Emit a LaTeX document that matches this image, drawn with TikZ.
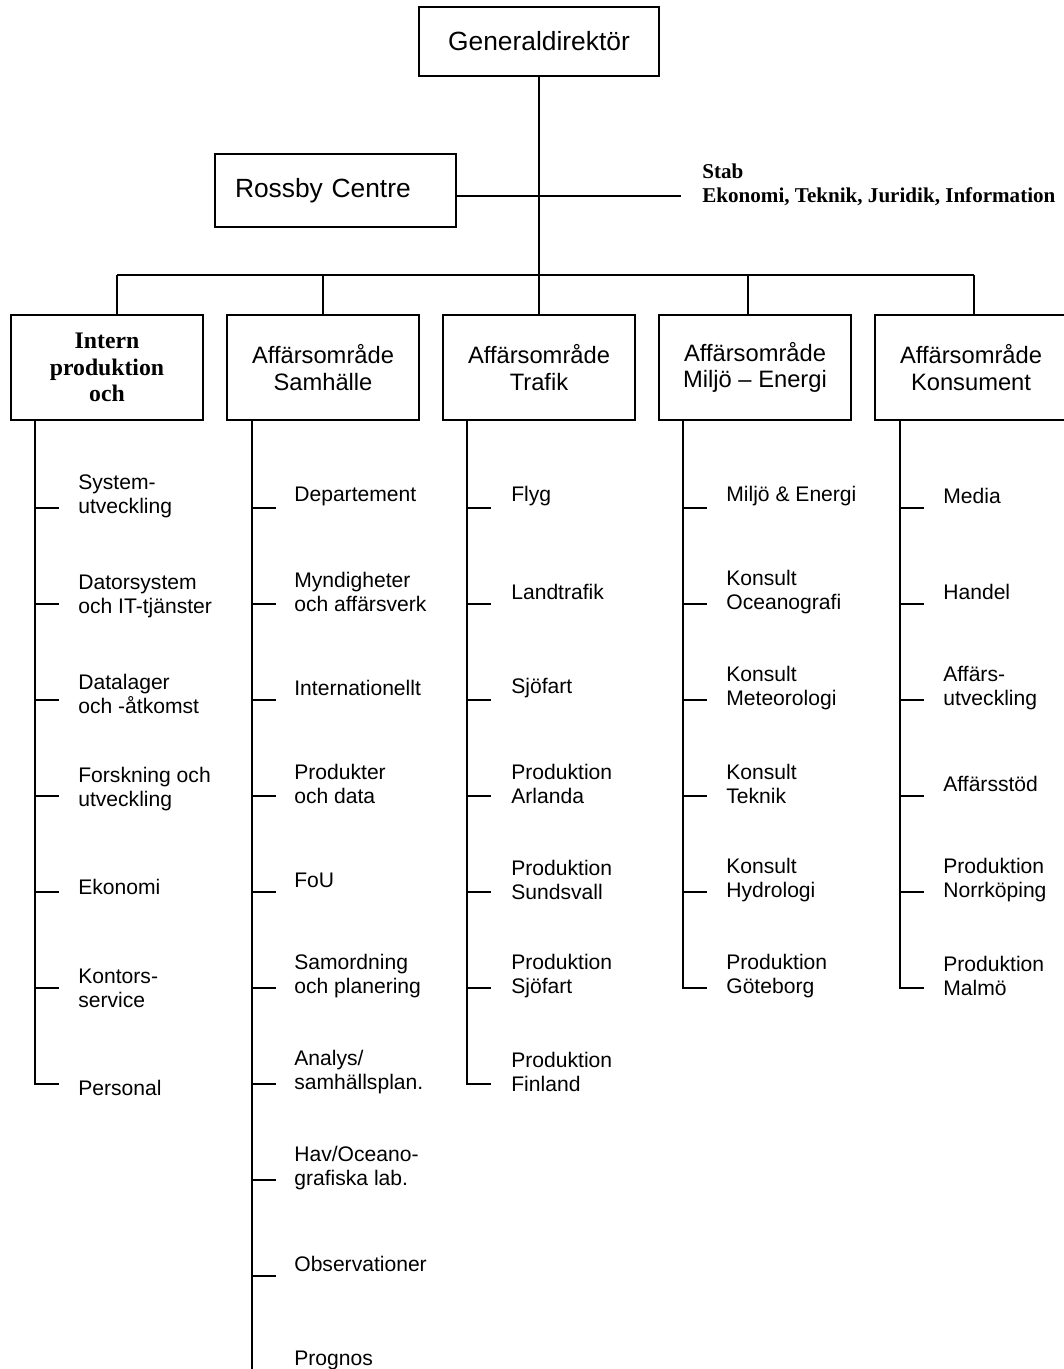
\documentclass[tikz,border=0pt]{standalone}
\usepackage{fontspec}
\setmainfont{Liberation Sans}
\newfontfamily\timesfont{Liberation Serif}
\usepackage{tikz}
\usetikzlibrary{
    positioning,
    calc
}
\tikzset{
    orgbox/.style={
        draw=black,
        line width=1.1pt,
        inner sep=0pt,
        align=center
    }
}
\tikzset{
    topbox/.style={
        orgbox,
        font=\fontsize{15}{18}\selectfont
    }
}
\tikzset{
    areabox/.style={
        orgbox,
        minimum width=3.84cm,
        minimum height=2.1cm,
        font=\fontsize{13.5}{15}\selectfont
    }
}
\tikzset{
    unit/.style={
        anchor=west,
        inner sep=0pt,
        align=left,
        font=\fontsize{12}{13.6}\selectfont
    }
}
\tikzset{
    orgline/.style={
        line width=1.1pt
    }
}

\begin{document}
\begin{tikzpicture}[
    x=0.02cm,
    y=-0.02cm
]

\useasboundingbox (0,0) rectangle (1063,1369);

% =========================================================
% Top level
% =========================================================

\node[topbox, minimum width=4.8cm, minimum height=1.38cm] (gd) at (539,41.5) {Generaldirektör};

\node[topbox, minimum width=4.82cm, minimum height=1.46cm, text width=4.02cm, align=left] (rossby) at (335.5,190.5) {Rossby Centre};

\node[
    anchor=west,
    inner sep=0pt,
    align=left,
    font=\timesfont\bfseries\fontsize{12}{13.6}\selectfont
] (stab) at (702,185) {Stab\\Ekonomi, Teknik, Juridik, Information};

\coordinate (stabend) at (681,196);
\draw[orgline] (rossby.east |- stabend) -- (stabend);


% =========================================================
% Business areas
% =========================================================

\node[areabox, font=\timesfont\bfseries\fontsize{13.5}{15}\selectfont] (intern) at (107,367.5) {Intern\\produktion\\och};
\node[areabox] (sam) at (323,367.5) {Affärsområde\\Samhälle};
\node[areabox] (trafik) at (539,367.5) {Affärsområde\\Trafik};
\node[areabox] (miljo) at (755,367.5) {Affärsområde\\Miljö -- Energi};
\node[areabox] (kons) at (971,367.5) {Affärsområde\\Konsument};

\coordinate (busw) at (117,275);
\coordinate (busm) at (748,275);
\coordinate (buse) at (974,275);

\draw[orgline] (gd.south) -- (trafik.north);
\draw[orgline] (busw) -- (buse);
\draw[orgline] (busw) -- (busw |- intern.north);
\draw[orgline] (sam.north) -- (sam.north |- busw);
\draw[orgline] (busm) -- (busm |- miljo.north);
\draw[orgline] (buse) -- (buse |- kons.north);


% =========================================================
% Intern produktion
% =========================================================

\foreach \txt/\dy [count=\i] in {
    System-\\utveckling/-12,
    Datorsystem\\och IT-tjänster/-8,
    Datalager\\och -åtkomst/-6,
    Forskning och\\utveckling/-7,
    Ekonomi/-5,
    Kontors-\\service/0,
    Personal/4
}{
    \coordinate (intern-t\i) at (35,{508+96*(\i-1)});
    \draw[orgline] (intern-t\i) -- ++(24,0);
    \node[unit] (intern-u\i) at (78,{508+96*(\i-1)+\dy}) {\txt};
}
\draw[orgline] (intern.south -| intern-t1) -- (intern-t7) -- ++(24,0);


% =========================================================
% Samhälle
% =========================================================

\foreach \txt [count=\i] in {
    Departement,
    Myndigheter\\och affärsverk,
    Internationellt,
    Produkter\\och data,
    FoU,
    Samordning\\och planering,
    Analys/\\samhällsplan.,
    Hav/Oceano-\\grafiska lab.,
    Observationer,
    Prognos
}{
    \coordinate (sam-t\i) at (252,{508+96*(\i-1)});
    \draw[orgline] (sam-t\i) -- ++(24,0);
    \node[unit] (sam-u\i) at (294,{496+96*(\i-1)}) {\txt};
}
\draw[orgline] (sam.south -| sam-t1) -- (sam-t10);


% =========================================================
% Trafik
% =========================================================

\foreach \txt [count=\i] in {
    Flyg,
    Landtrafik,
    Sjöfart,
    Produktion\\Arlanda,
    Produktion\\Sundsvall,
    Produktion\\Sjöfart,
    Produktion\\Finland
}{
    \coordinate (trafik-t\i) at (467,{508+96*(\i-1)});
    \draw[orgline] (trafik-t\i) -- ++(24,0);
    \node[unit] (trafik-u\i) at (511,{496+96*(\i-1)}) {\txt};
}
\draw[orgline] (trafik.south -| trafik-t1) -- (trafik-t7) -- ++(24,0);


% =========================================================
% Miljö -- Energi
% =========================================================

\foreach \txt [count=\i] in {
    Miljö \& Energi,
    Konsult\\Oceanografi,
    Konsult\\Meteorologi,
    Konsult\\Teknik,
    Konsult\\Hydrologi,
    Produktion\\Göteborg
}{
    \coordinate (miljo-t\i) at (683,{508+96*(\i-1)});
    \draw[orgline] (miljo-t\i) -- ++(24,0);
    \node[unit] (miljo-u\i) at (726,{496+96*(\i-1)}) {\txt};
}
\draw[orgline] (miljo.south -| miljo-t1) -- (miljo-t6) -- ++(24,0);


% =========================================================
% Konsument
% =========================================================

\foreach \txt [count=\i] in {
    Media,
    Handel,
    Affärs-\\utveckling,
    Affärsstöd,
    Produktion\\Norrköping,
    Produktion\\Malmö
}{
    \coordinate (kons-t\i) at (900,{508+96*(\i-1)});
    \draw[orgline] (kons-t\i) -- ++(24,0);
    \node[unit] (kons-u\i) at (943,{496+96*(\i-1)}) {\txt};
}
\draw[orgline] (kons.south -| kons-t1) -- (kons-t6) -- ++(24,0);

\end{tikzpicture}
\end{document}
